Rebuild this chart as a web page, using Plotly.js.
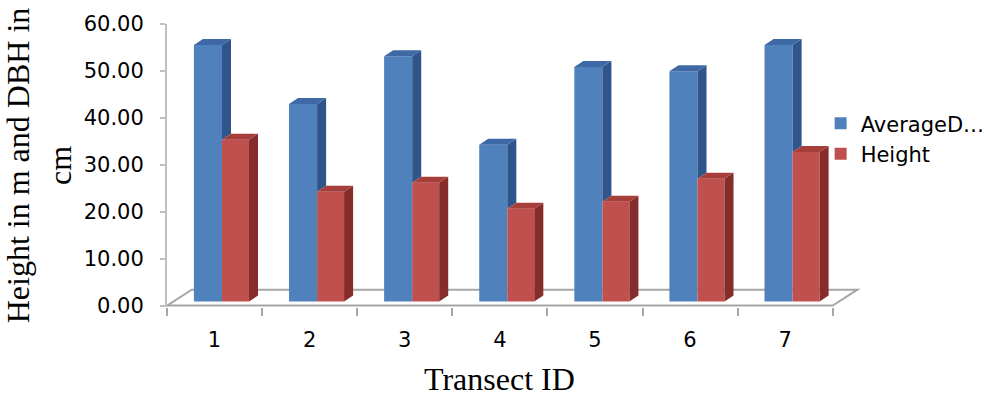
<!DOCTYPE html>
<html>
<head>
<meta charset="utf-8">
<script src="https://cdn.plot.ly/plotly-3.0.1.min.js"></script>
<style>
  html, body { margin: 0; padding: 0; background: #ffffff; }
  #chart { width: 984px; height: 400px; }
</style>
</head>
<body>
<div id="chart"></div>
<script>
// ---- data ----
const categories = ['1', '2', '3', '4', '5', '6', '7'];
const averageDBH = [54.7, 42.1, 52.3, 33.4, 50.0, 49.1, 54.7];
const treeHeight = [34.5, 23.4, 25.3, 19.8, 21.3, 26.2, 31.9];
const seriesNames = ['AverageD\u2026', 'Height'];
const yTickValues = [0, 10, 20, 30, 40, 50, 60];
const xTitle = 'Transect ID';
const yTitle = 'Height in m and DBH in<br>cm';

// ---- 3D look (style constants, in axis units) ----
const idx = categories.map((c, i) => i);
const base0 = 0.85;      // bars stand a little behind the front edge of the floor
const depthX = 0.095;    // side-face depth, x units
const depthY = 1.28;     // top-face depth, y units
const floorDX = 0.26, floorDY = 3.4;
const blueOff = -0.217, blueW = 0.295;
const redOff = 0.078, redW = 0.284;

const blue = { front: '#4F81BD', side: '#30558A', top: '#3E68A6' };
const red = { front: '#C0504D', side: '#862C2A', top: '#A63F3C' };

function face(xs, ys, color) {
  return {
    type: 'scatter', mode: 'lines', x: xs, y: ys, fill: 'toself',
    fillcolor: color, line: { width: 0, color: color },
    hoverinfo: 'skip', showlegend: false, xaxis: 'x', yaxis: 'y'
  };
}

const bSideX = [], bSideY = [], bTopX = [], bTopY = [];
const rSideX = [], rSideY = [], rTopX = [], rTopY = [];
idx.forEach(i => {
  const bx0 = i + blueOff, bx1 = bx0 + blueW;
  const bt = base0 + averageDBH[i];
  const rx0 = i + redOff, rx1 = rx0 + redW;
  const rt = base0 + treeHeight[i];
  const low = Math.min(rt, bt);
  bSideX.push(bx1, bx1 + depthX, bx1 + depthX, bx1, null);
  bSideY.push(low, low + depthY, bt + depthY, bt, null);
  bTopX.push(bx0, bx0 + depthX, bx1 + depthX, bx1, null);
  bTopY.push(bt, bt + depthY, bt + depthY, bt, null);
  rSideX.push(rx1, rx1 + depthX, rx1 + depthX, rx1, null);
  rSideY.push(base0, base0 + depthY, rt + depthY, rt, null);
  rTopX.push(rx0, rx0 + depthX, rx1 + depthX, rx1, null);
  rTopY.push(rt, rt + depthY, rt + depthY, rt, null);
});

const traces = [
  {
    type: 'bar', name: seriesNames[0], x: idx, y: averageDBH,
    base: idx.map(() => base0), offset: blueOff, width: blueW,
    marker: { color: blue.front, line: { width: 0 } },
    xaxis: 'x', yaxis: 'y', hoverinfo: 'y'
  },
  {
    type: 'bar', name: seriesNames[1], x: idx, y: treeHeight,
    base: idx.map(() => base0), offset: redOff, width: redW,
    marker: { color: red.front, line: { width: 0 } },
    xaxis: 'x', yaxis: 'y', hoverinfo: 'y'
  },
  face(bSideX, bSideY, blue.side),
  face(bTopX, bTopY, blue.top),
  face(rSideX, rSideY, red.side),
  face(rTopX, rTopY, red.top),
  {
    type: 'scatter', mode: 'markers', x: idx, y: idx.map(() => 0),
    marker: { opacity: 0 }, hoverinfo: 'skip', showlegend: false,
    xaxis: 'x2', yaxis: 'y'
  }
];

const xRange = [-0.5, 6.85];
const boundaries = idx.concat([categories.length]).map(v => v - 0.5);
const gray = '#A6A6A6';
const sans = 'DejaVu Sans, sans-serif';
const serif = 'Liberation Serif, serif';

const layout = {
  width: 984, height: 400,
  margin: { l: 167, r: 117.7, t: 24, b: 92.6, autoexpand: false },
  paper_bgcolor: '#ffffff', plot_bgcolor: 'rgba(0,0,0,0)',
  barmode: 'overlay',
  font: { family: sans, color: '#000000', size: 21 },
  showlegend: true,
  legend: {
    xref: 'container', yref: 'container',
    x: 0.834, xanchor: 'left', y: 0.742, yanchor: 'top',
    bgcolor: 'rgba(0,0,0,0)', font: { family: sans, size: 21, color: '#000' },
    tracegroupgap: 0
  },
  xaxis: {
    type: 'linear', range: xRange, tickmode: 'array', tickvals: boundaries,
    showticklabels: false, ticks: 'outside', ticklen: 8, tickwidth: 2, tickcolor: gray,
    showline: false, showgrid: false, zeroline: false, fixedrange: true
  },
  xaxis2: {
    type: 'linear', range: xRange, overlaying: 'x', anchor: 'y', side: 'bottom',
    tickmode: 'array', tickvals: idx, ticktext: categories, ticks: '',
    ticklabelstandoff: 18,
    tickfont: { family: sans, size: 21, color: '#000' },
    showline: false, showgrid: false, zeroline: false, fixedrange: true
  },
  yaxis: {
    range: [-0.3, 60], tickmode: 'array', tickvals: yTickValues, tickformat: '.2f',
    ticks: 'outside', ticklen: 5, tickwidth: 2, tickcolor: '#BFBFBF',
    ticklabelstandoff: 12,
    showline: true, linecolor: '#BFBFBF', linewidth: 2,
    showgrid: false, zeroline: false, fixedrange: true,
    tickfont: { family: sans, size: 21, color: '#000' },
    title: { text: yTitle, font: { family: serif, size: 32, color: '#000' }, standoff: 6 }
  },
  annotations: [
    {
      text: xTitle, xref: 'x', x: (categories.length - 1) / 2, yref: 'paper', y: -0.256,
      xanchor: 'center', yanchor: 'middle', showarrow: false,
      font: { family: serif, size: 32, color: '#000' }
    }
  ],
  shapes: [
    {
      type: 'path', xref: 'x', yref: 'y', layer: 'below',
      path: 'M ' + xRange[0] + ',0 L ' + (categories.length - 0.5) + ',0 L ' +
        (categories.length - 0.5 + floorDX) + ',' + floorDY + ' L ' +
        (xRange[0] + floorDX) + ',' + floorDY + ' Z',
      line: { color: gray, width: 2 }, fillcolor: 'rgba(255,255,255,0)'
    }
  ]
};

Plotly.newPlot('chart', traces, layout, { displayModeBar: false, staticPlot: true });
</script>
</body>
</html>
